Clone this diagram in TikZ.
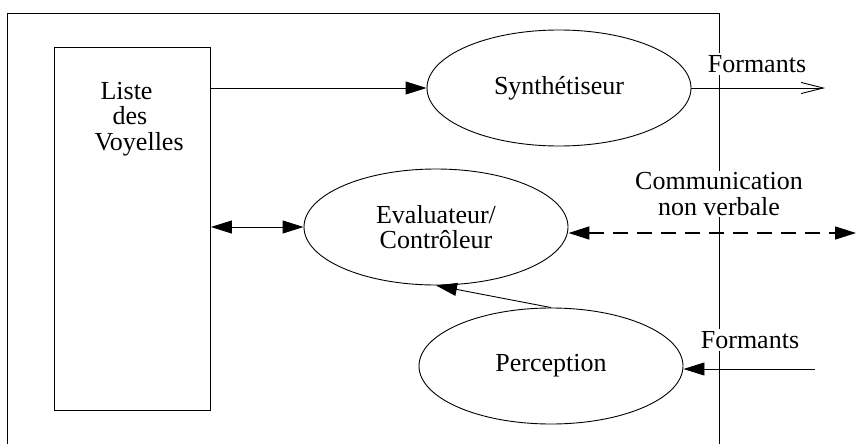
\documentclass[tikz,border=0pt]{standalone}
\usepackage{fontspec}
\setmainfont{Liberation Serif}
\usepackage{tikz}
\usetikzlibrary{arrows.meta, shapes.geometric}

\begin{document}
\begin{tikzpicture}[
          x=1pt, y=-1pt,
          every node/.style={align=center, font=\fontsize{26}{25.5}\selectfont},
          module/.style={ellipse, draw, line width=0.9pt, minimum width=264, minimum height=116},
          outlabel/.style={fill=white, inner sep=2pt},
          arrow/.style={-{Triangle[length=21pt,width=13pt]}, line width=0.9pt},
          dblarrow/.style={{Triangle[length=21pt,width=13pt]}-{Triangle[length=21pt,width=13pt]}, line width=0.9pt},
          openarrow/.style={-{Straight Barb[length=22pt,width=11pt]}, line width=0.9pt}
        ]
          \useasboundingbox (0,0) rectangle (856,444);

          % Frame (open at the bottom)
          \draw[line width=0.9pt] (7,444) |- (719,13) -- (719,444);

          % List of vowels on the left
          \node[draw, line width=0.9pt, anchor=north west, minimum width=156, minimum height=363] (liste) at (54,47) {};
          \node[align=left, anchor=west] (listetext) at (91,119) {\hspace{6pt}Liste\\\hspace{18pt}des\\Voyelles};

          % Modules
          \node[module] (synth) at (559,88) {Synthétiseur};
          \node[module] (eval) at (436,227) {Evaluateur/\\Contrôleur};
          \node[module] (perc) at (551,366) {Perception};

          % Outside labels
          \node[outlabel] (formantsout) at (757,64) {Formants};
          \node[outlabel] (comm) at (719,194) {Communication\\non verbale};
          \node[outlabel] (formantsin) at (750,340) {Formants};

          \coordinate (outend) at (825,88);
          \coordinate (dashend) at (856,233);
          \coordinate (inend) at (815,369);

          % Arrows
          \draw[arrow] (liste.east |- synth.west) -- (synth.west);
          \draw[dblarrow] (liste.east |- eval.west) -- (eval.west);
          \draw[openarrow] (synth.east) -- (outend);
          \draw[dblarrow, line width=1.6pt, dash pattern=on 15pt off 9pt] (dashend -| eval.east) -- (dashend);
          \draw[arrow] (perc.north) -- (eval.south);
          \draw[arrow] (inend) -- (inend -| perc.east);
        \end{tikzpicture}
\end{document}
